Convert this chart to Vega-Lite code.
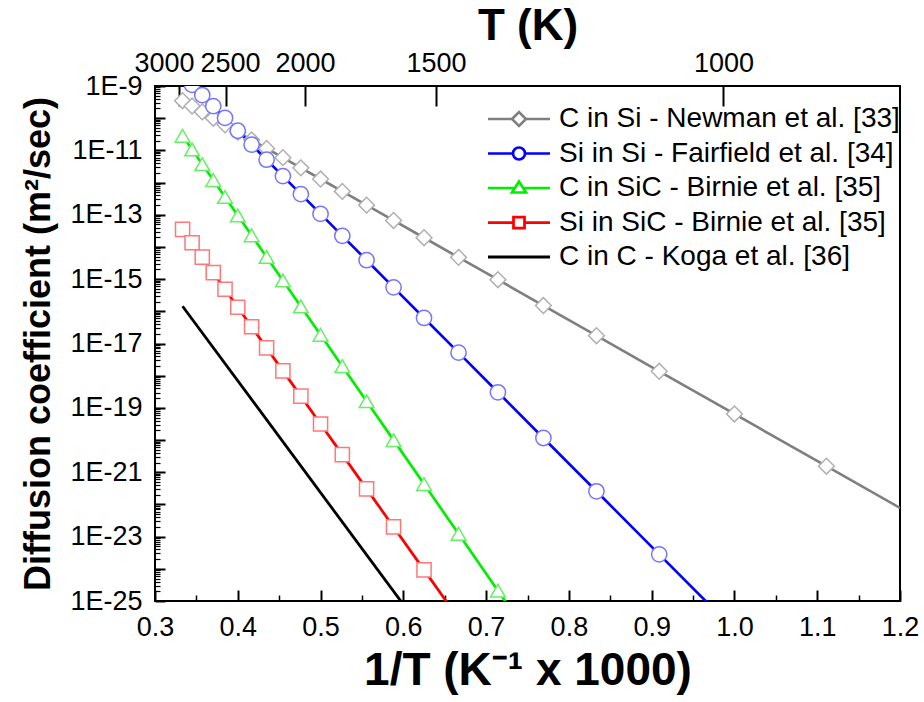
{
  "$schema": "https://vega.github.io/schema/vega-lite/v6.json",
  "width": 745,
  "height": 515,
  "autosize": {"type": "none"},
  "padding": {"left": 155, "top": 86, "right": 24, "bottom": 101},
  "background": "white",
  "config": {
    "font": "Liberation Sans",
    "view": {"stroke": "#000000", "strokeWidth": 2},
    "axis": {"grid": false, "domain": false, "tickColor": "#000000", "labelColor": "#000000", "labelFont": "Liberation Sans", "labelFontSize": 27, "titleColor": "#000000", "titleFont": "Liberation Sans", "titleFontWeight": "bold", "labelOverlap": false, "labelFlush": false}
  },
  "datasets": {
    "diff": [
      {"series": "C in Si - Newman et al. [33]", "invT": 0.3333, "D": 3.49e-10},
      {"series": "C in Si - Newman et al. [33]", "invT": 0.3448, "D": 2.38e-10},
      {"series": "C in Si - Newman et al. [33]", "invT": 0.3571, "D": 1.57e-10},
      {"series": "C in Si - Newman et al. [33]", "invT": 0.3704, "D": 1.00e-10},
      {"series": "C in Si - Newman et al. [33]", "invT": 0.3846, "D": 6.24e-11},
      {"series": "C in Si - Newman et al. [33]", "invT": 0.4, "D": 3.72e-11},
      {"series": "C in Si - Newman et al. [33]", "invT": 0.4167, "D": 2.12e-11},
      {"series": "C in Si - Newman et al. [33]", "invT": 0.4348, "D": 1.15e-11},
      {"series": "C in Si - Newman et al. [33]", "invT": 0.4545, "D": 5.94e-12},
      {"series": "C in Si - Newman et al. [33]", "invT": 0.4762, "D": 2.86e-12},
      {"series": "C in Si - Newman et al. [33]", "invT": 0.5, "D": 1.29e-12},
      {"series": "C in Si - Newman et al. [33]", "invT": 0.5263, "D": 5.32e-13},
      {"series": "C in Si - Newman et al. [33]", "invT": 0.5556, "D": 1.99e-13},
      {"series": "C in Si - Newman et al. [33]", "invT": 0.5882, "D": 6.64e-14},
      {"series": "C in Si - Newman et al. [33]", "invT": 0.625, "D": 1.93e-14},
      {"series": "C in Si - Newman et al. [33]", "invT": 0.6667, "D": 4.74e-15},
      {"series": "C in Si - Newman et al. [33]", "invT": 0.7143, "D": 9.57e-16},
      {"series": "C in Si - Newman et al. [33]", "invT": 0.7692, "D": 1.51e-16},
      {"series": "C in Si - Newman et al. [33]", "invT": 0.8333, "D": 1.75e-17},
      {"series": "C in Si - Newman et al. [33]", "invT": 0.9091, "D": 1.37e-18},
      {"series": "C in Si - Newman et al. [33]", "invT": 1.0, "D": 6.46e-20},
      {"series": "C in Si - Newman et al. [33]", "invT": 1.1111, "D": 1.54e-21},
      {"series": "C in Si - Newman et al. [33]", "invT": 1.2, "D": 7.76e-23},
      {"series": "Si in Si - Fairfield et al. [34]", "invT": 0.3448, "D": 1.09e-9},
      {"series": "Si in Si - Fairfield et al. [34]", "invT": 0.3571, "D": 5.24e-10},
      {"series": "Si in Si - Fairfield et al. [34]", "invT": 0.3704, "D": 2.37e-10},
      {"series": "Si in Si - Fairfield et al. [34]", "invT": 0.3846, "D": 1.02e-10},
      {"series": "Si in Si - Fairfield et al. [34]", "invT": 0.4, "D": 4.07e-11},
      {"series": "Si in Si - Fairfield et al. [34]", "invT": 0.4167, "D": 1.51e-11},
      {"series": "Si in Si - Fairfield et al. [34]", "invT": 0.4348, "D": 5.13e-12},
      {"series": "Si in Si - Fairfield et al. [34]", "invT": 0.4545, "D": 1.59e-12},
      {"series": "Si in Si - Fairfield et al. [34]", "invT": 0.4762, "D": 4.37e-13},
      {"series": "Si in Si - Fairfield et al. [34]", "invT": 0.5, "D": 1.06e-13},
      {"series": "Si in Si - Fairfield et al. [34]", "invT": 0.5263, "D": 2.21e-14},
      {"series": "Si in Si - Fairfield et al. [34]", "invT": 0.5556, "D": 3.87e-15},
      {"series": "Si in Si - Fairfield et al. [34]", "invT": 0.5882, "D": 5.56e-16},
      {"series": "Si in Si - Fairfield et al. [34]", "invT": 0.625, "D": 6.22e-17},
      {"series": "Si in Si - Fairfield et al. [34]", "invT": 0.6667, "D": 5.20e-18},
      {"series": "Si in Si - Fairfield et al. [34]", "invT": 0.7143, "D": 3.05e-19},
      {"series": "Si in Si - Fairfield et al. [34]", "invT": 0.7692, "D": 1.16e-20},
      {"series": "Si in Si - Fairfield et al. [34]", "invT": 0.8333, "D": 2.56e-22},
      {"series": "Si in Si - Fairfield et al. [34]", "invT": 0.9091, "D": 2.82e-24},
      {"series": "Si in Si - Fairfield et al. [34]", "invT": 1.0, "D": 1.26e-26},
      {"series": "C in SiC - Birnie et al. [35]", "invT": 0.3333, "D": 2.84e-11},
      {"series": "C in SiC - Birnie et al. [35]", "invT": 0.3448, "D": 1.07e-11},
      {"series": "C in SiC - Birnie et al. [35]", "invT": 0.3571, "D": 3.73e-12},
      {"series": "C in SiC - Birnie et al. [35]", "invT": 0.3704, "D": 1.20e-12},
      {"series": "C in SiC - Birnie et al. [35]", "invT": 0.3846, "D": 3.56e-13},
      {"series": "C in SiC - Birnie et al. [35]", "invT": 0.4, "D": 9.55e-14},
      {"series": "C in SiC - Birnie et al. [35]", "invT": 0.4167, "D": 2.29e-14},
      {"series": "C in SiC - Birnie et al. [35]", "invT": 0.4348, "D": 4.89e-15},
      {"series": "C in SiC - Birnie et al. [35]", "invT": 0.4545, "D": 9.08e-16},
      {"series": "C in SiC - Birnie et al. [35]", "invT": 0.4762, "D": 1.42e-16},
      {"series": "C in SiC - Birnie et al. [35]", "invT": 0.5, "D": 1.86e-17},
      {"series": "C in SiC - Birnie et al. [35]", "invT": 0.5263, "D": 1.97e-18},
      {"series": "C in SiC - Birnie et al. [35]", "invT": 0.5556, "D": 1.61e-19},
      {"series": "C in SiC - Birnie et al. [35]", "invT": 0.5882, "D": 9.95e-21},
      {"series": "C in SiC - Birnie et al. [35]", "invT": 0.625, "D": 4.29e-22},
      {"series": "C in SiC - Birnie et al. [35]", "invT": 0.6667, "D": 1.22e-23},
      {"series": "C in SiC - Birnie et al. [35]", "invT": 0.7143, "D": 2.09e-25},
      {"series": "C in SiC - Birnie et al. [35]", "invT": 0.7692, "D": 1.92e-27},
      {"series": "Si in SiC - Birnie et al. [35]", "invT": 0.3333, "D": 3.52e-14},
      {"series": "Si in SiC - Birnie et al. [35]", "invT": 0.3448, "D": 1.35e-14},
      {"series": "Si in SiC - Birnie et al. [35]", "invT": 0.3571, "D": 4.82e-15},
      {"series": "Si in SiC - Birnie et al. [35]", "invT": 0.3704, "D": 1.59e-15},
      {"series": "Si in SiC - Birnie et al. [35]", "invT": 0.3846, "D": 4.84e-16},
      {"series": "Si in SiC - Birnie et al. [35]", "invT": 0.4, "D": 1.34e-16},
      {"series": "Si in SiC - Birnie et al. [35]", "invT": 0.4167, "D": 3.32e-17},
      {"series": "Si in SiC - Birnie et al. [35]", "invT": 0.4348, "D": 7.33e-18},
      {"series": "Si in SiC - Birnie et al. [35]", "invT": 0.4545, "D": 1.41e-18},
      {"series": "Si in SiC - Birnie et al. [35]", "invT": 0.4762, "D": 2.31e-19},
      {"series": "Si in SiC - Birnie et al. [35]", "invT": 0.5, "D": 3.16e-20},
      {"series": "Si in SiC - Birnie et al. [35]", "invT": 0.5263, "D": 3.52e-21},
      {"series": "Si in SiC - Birnie et al. [35]", "invT": 0.5556, "D": 3.04e-22},
      {"series": "Si in SiC - Birnie et al. [35]", "invT": 0.5882, "D": 2.00e-23},
      {"series": "Si in SiC - Birnie et al. [35]", "invT": 0.625, "D": 9.25e-25},
      {"series": "Si in SiC - Birnie et al. [35]", "invT": 0.6667, "D": 2.84e-26},
      {"series": "C in C - Koga et al. [36]", "invT": 0.3333, "D": 1.44e-16},
      {"series": "C in C - Koga et al. [36]", "invT": 0.6, "D": 7.8e-26}
    ]
  },
  "data": {"name": "diff"},
  "layer": [
    {
      "mark": {"type": "line", "clip": true},
      "encoding": {
        "x": {"field": "invT", "type": "quantitative",
              "scale": {"domain": [0.3, 1.2], "nice": false, "zero": false},
              "axis": {"orient": "bottom", "values": [0.3, 0.4, 0.5, 0.6, 0.7, 0.8, 0.9, 1.0, 1.1, 1.2], "format": ".1f", "tickSize": -11, "tickWidth": 2, "labelPadding": 24, "title": "1/T (K⁻¹ x 1000)", "titleFontSize": 46, "titlePadding": 8}},
        "y": {"field": "D", "type": "quantitative",
              "scale": {"type": "log", "domain": [1e-25, 1e-9], "nice": false},
              "axis": {"orient": "left", "values": [1e-25, 1e-24, 1e-23, 1e-22, 1e-21, 1e-20, 1e-19, 1e-18, 1e-17, 1e-16, 1e-15, 1e-14, 1e-13, 1e-12, 1e-11, 1e-10, 1e-9], "labelExpr": "abs(round(log(datum.value)/LN10)) % 2 == 1 ? '1E' + round(log(datum.value)/LN10) : ''", "tickSize": -10, "tickWidth": 2, "labelPadding": 23, "title": "Diffusion coefficient (m²/sec)", "titleFontSize": 36, "titlePadding": 12}},
        "color": {"field": "series", "type": "nominal",
                  "scale": {"domain": ["C in Si - Newman et al. [33]", "Si in Si - Fairfield et al. [34]", "C in SiC - Birnie et al. [35]", "Si in SiC - Birnie et al. [35]", "C in C - Koga et al. [36]"],
                            "range": ["#7f7f7f", "#0000ff", "#00ee00", "#ff0000", "#000000"]},
                  "legend": {"orient": "none", "legendX": 350, "legendY": 19, "title": null, "padding": 0, "rowPadding": 6.5,
                             "symbolSize": 400, "symbolStrokeWidth": 2, "symbolFillColor": "white",
                             "labelFont": "Liberation Sans", "labelFontSize": 28, "labelColor": "#000000", "labelOffset": 26, "labelLimit": 600,
                             "encode": {"symbols": {"update": {"fill": {"value": "white"}, "shape": {"signal": "datum.value === 'C in Si - Newman et al. [33]' ? 'M-3.1,0H-0.7M0.7,0H3.1M-0.7,0L0,-0.7L0.7,0L0,0.7Z' : datum.value === 'Si in Si - Fairfield et al. [34]' ? 'M-3.1,0H-0.6M0.6,0H3.1M-0.6,0A0.6,0.6,0,1,1,0.6,0A0.6,0.6,0,1,1,-0.6,0Z' : datum.value === 'C in SiC - Birnie et al. [35]' ? 'M-3.1,0H-0.41M0.41,0H3.1M0,-0.65L0.7,0.45L-0.7,0.45Z' : datum.value === 'Si in SiC - Birnie et al. [35]' ? 'M-3.1,0H-0.55M0.55,0H3.1M-0.55,-0.55H0.55V0.55H-0.55Z' : 'M-3.1,0H3.1'"}}}}}},
        "strokeWidth": {"field": "series", "type": "nominal",
                        "scale": {"domain": ["C in Si - Newman et al. [33]", "Si in Si - Fairfield et al. [34]", "C in SiC - Birnie et al. [35]", "Si in SiC - Birnie et al. [35]", "C in C - Koga et al. [36]"],
                                  "range": [2.6, 2.8, 2, 2, 1.6]},
                        "legend": null}
      }
    },
    {
      "transform": [{"filter": "datum.series !== 'C in C - Koga et al. [36]' && datum.invT < 1.15"}],
      "mark": {"type": "point", "clip": true, "filled": true, "fill": "white", "opacity": 1, "strokeWidth": 1.5},
      "encoding": {
        "x": {"field": "invT", "type": "quantitative",
              "scale": {"domain": [0.3, 1.2], "nice": false, "zero": false},
              "axis": {"orient": "top", "values": [0.329, 0.3857, 0.4812, 0.6394, 0.9867], "labelExpr": "datum.value < 0.35 ? '3000' : datum.value < 0.43 ? '2500' : datum.value < 0.55 ? '2000' : datum.value < 0.8 ? '1500' : '1000'", "labelFontSize": 27, "labelAlign": {"condition": {"test": "datum.value < 0.35", "value": "right"}, "value": "center"}, "labelOffset": {"condition": [{"test": "datum.value < 0.35", "value": 15}, {"test": "datum.value < 0.43", "value": 4}], "value": 0}, "tickSize": -20, "tickWidth": 2, "labelPadding": 29, "title": "T (K)", "titleFontSize": 44, "titlePadding": 1}},
        "y": {"field": "D", "type": "quantitative",
              "scale": {"type": "log", "domain": [1e-25, 1e-9], "nice": false},
              "axis": {"orient": "left", "tickCount": 100, "labels": false, "tickSize": -5, "tickWidth": 1.2, "title": null}},
        "stroke": {"field": "series", "type": "nominal",
                   "scale": {"domain": ["C in Si - Newman et al. [33]", "Si in Si - Fairfield et al. [34]", "C in SiC - Birnie et al. [35]", "Si in SiC - Birnie et al. [35]"],
                             "range": ["#b0b0b0", "#7575ff", "#66ee66", "#ff7777"]},
                   "legend": null},
        "shape": {"field": "series", "type": "nominal",
                  "scale": {"domain": ["C in Si - Newman et al. [33]", "Si in Si - Fairfield et al. [34]", "C in SiC - Birnie et al. [35]", "Si in SiC - Birnie et al. [35]"],
                            "range": ["diamond", "circle", "triangle-up", "square"]},
                  "legend": null},
        "size": {"field": "series", "type": "nominal",
                 "scale": {"domain": ["C in Si - Newman et al. [33]", "Si in Si - Fairfield et al. [34]", "C in SiC - Birnie et al. [35]", "Si in SiC - Birnie et al. [35]"],
                           "range": [250, 200, 260, 160]},
                 "legend": null}
      }
    },
    {
      "mark": {"type": "point", "opacity": 0},
      "encoding": {
        "x": {"field": "invT", "type": "quantitative",
              "scale": {"domain": [0.3, 1.2], "nice": false, "zero": false},
              "axis": {"orient": "bottom", "values": [0.35, 0.45, 0.55, 0.65, 0.75, 0.85, 0.95, 1.05, 1.15], "labels": false, "tickSize": -6, "tickWidth": 1.5, "title": null}}
      }
    }
  ],
  "resolve": {"axis": {"x": "independent", "y": "independent"}}
}
